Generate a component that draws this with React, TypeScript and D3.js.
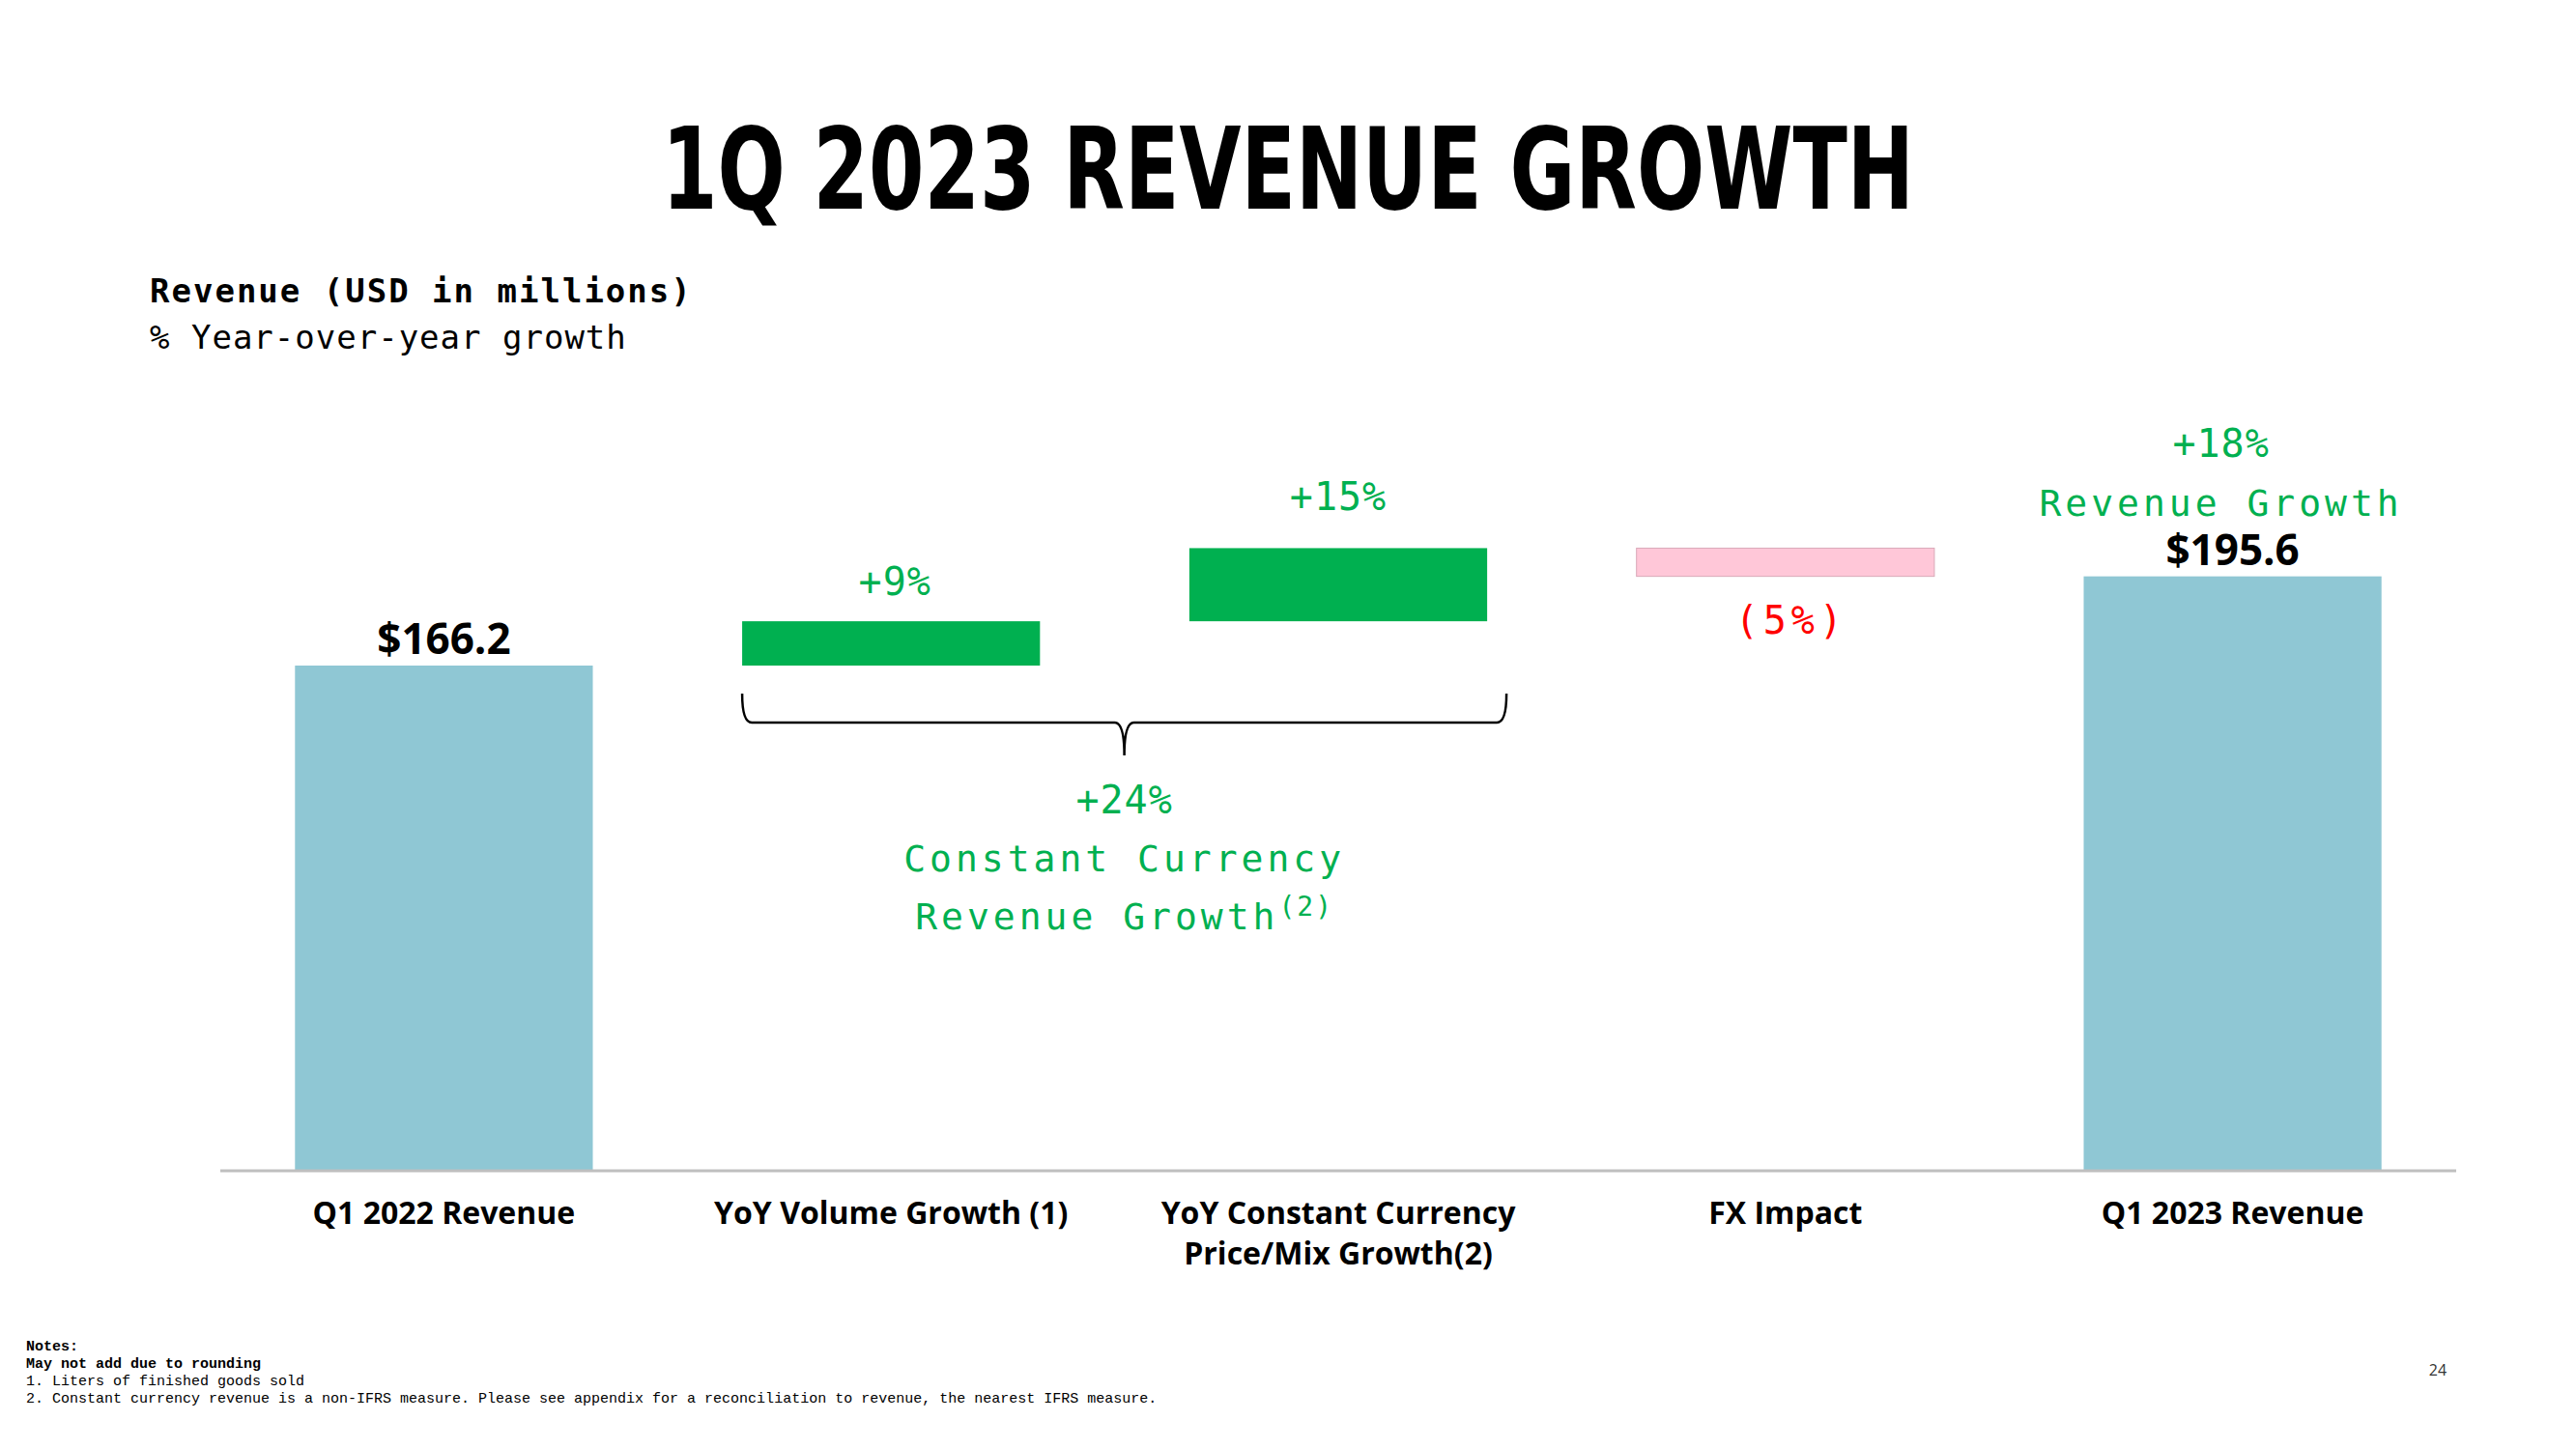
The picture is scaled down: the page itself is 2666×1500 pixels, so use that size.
import * as d3 from 'd3';
import React from 'react';

const categories = ['Q1 2022 Revenue', 'YoY Volume Growth (1)', 'YoY Constant Currency Price/Mix Growth(2)', 'FX Impact', 'Q1 2023 Revenue'];
const categoryLines = [['Q1 2022 Revenue'], ['YoY Volume Growth (1)'], ['YoY Constant Currency', 'Price/Mix Growth(2)'], ['FX Impact'], ['Q1 2023 Revenue']];
const values = [166.2, 14.6, 24.1, -9.3, 195.6];
const kinds = ['total', 'delta', 'delta', 'delta', 'total'];
const valueLabels = ['$166.2', '+9%', '+15%', '(5%)', '$195.6'];
const notes = [
  'Notes:',
  'May not add due to rounding',
  '1. Liters of finished goods sold',
  '2. Constant currency revenue is a non-IFRS measure.  Please see appendix for a reconciliation to revenue, the nearest IFRS measure.',
];

const W = 2666;
const H = 1500;
const GREEN = '#00b050';
const BLUE = '#8fc7d4';
const PINK = '#ffc7d8';
const RED = '#ff0000';
const MONO = "'DejaVu Sans Mono', 'Liberation Mono', monospace";
const SANS = "'Open Sans', 'Noto Sans', sans-serif";

const App: React.FC = () => {
  const x = d3.scaleBand<string>().domain(categories).range([228, 2542]).paddingInner(0.334).paddingOuter(0.167);
  const y = d3.scaleLinear().domain([0, 220]).range([1211, 520]);
  const bw = x.bandwidth();

  // waterfall steps
  let running = 0;
  const bars = categories.map((c, i) => {
    let lo: number;
    let hi: number;
    if (kinds[i] === 'total') {
      lo = 0;
      hi = values[i];
      running = values[i];
    } else {
      const next = running + values[i];
      lo = Math.min(running, next);
      hi = Math.max(running, next);
      running = next;
    }
    return { c, i, lo, hi, v: values[i] };
  });

  const fillFor = (i: number) => (kinds[i] === 'total' ? BLUE : values[i] >= 0 ? GREEN : PINK);

  // brace under the two constant-currency bars
  const bx1 = x(categories[1])!;
  const bx2 = x(categories[2])! + bw + 20;
  const bmid = (bx1 + bx2) / 2;
  const bTop = y(values[0]) + 29;
  const bLine = bTop + 30;
  const bTip = bLine + 34;
  const brace = `M${bx1},${bTop} Q${bx1},${bLine} ${bx1 + 10},${bLine} L${bmid - 10},${bLine} Q${bmid},${bLine} ${bmid},${bTip} Q${bmid},${bLine} ${bmid + 10},${bLine} L${bx2 - 10},${bLine} Q${bx2},${bLine} ${bx2},${bTop}`;

  const cx = (i: number) => x(categories[i])! + bw / 2;

  return (
    <svg width={W} height={H} style={{ display: 'block', position: 'absolute', left: 0, top: 0 }}>
      <rect width={W} height={H} fill="#fff" />
      <text
        x={W / 2}
        y={216}
        textAnchor="middle"
        fontFamily="'DejaVu Sans Condensed', 'DejaVu Sans', sans-serif"
        fontWeight={900}
        fontSize={118}
        textLength={1296}
        lengthAdjust="spacingAndGlyphs"
        fill="#000"
      >
        1Q 2023 REVENUE GROWTH
      </text>

      <text x={155} y={313} fontFamily={MONO} fontWeight={700} fontSize={34} letterSpacing={2} fill="#000">
        Revenue (USD in millions)
      </text>
      <text x={155} y={361} fontFamily={MONO} fontSize={34} letterSpacing={1} fill="#000">
        % Year-over-year growth
      </text>

      {bars.map((b) => (
        <rect
          key={b.c}
          x={x(b.c)}
          y={y(b.hi)}
          width={bw}
          height={y(b.lo) - y(b.hi)}
          fill={fillFor(b.i)}
          stroke={kinds[b.i] === 'delta' && b.v < 0 ? '#d9a8b8' : 'none'}
          strokeWidth={1}
        />
      ))}

      <line x1={228} x2={2542} y1={y(0) + 1} y2={y(0) + 1} stroke="#bfbfbf" strokeWidth={3} />

      {/* value labels */}
      <text x={cx(0)} y={y(bars[0].hi) - 12} textAnchor="middle" fontFamily={SANS} fontWeight={700} fontSize={44} fill="#000">
        {valueLabels[0]}
      </text>
      <text x={cx(4)} y={y(bars[4].hi) - 12} textAnchor="middle" fontFamily={SANS} fontWeight={700} fontSize={44} fill="#000">
        {valueLabels[4]}
      </text>
      <text x={cx(1) + 4} y={y(bars[1].hi) - 27} textAnchor="middle" fontFamily={MONO} fontSize={40} letterSpacing={1} fill={GREEN}>
        {valueLabels[1]}
      </text>
      <text x={cx(2)} y={y(bars[2].hi) - 39} textAnchor="middle" fontFamily={MONO} fontSize={40} letterSpacing={1} fill={GREEN}>
        {valueLabels[2]}
      </text>
      <text x={cx(3) + 6} y={y(bars[3].lo) + 59} textAnchor="middle" fontFamily={MONO} fontSize={40} letterSpacing={5} fill={RED}>
        {valueLabels[3]}
      </text>

      <text x={cx(4) - 12} y={y(bars[4].hi) - 124} textAnchor="middle" fontFamily={MONO} fontSize={40} letterSpacing={1} fill={GREEN}>
        +18%
      </text>
      <text x={cx(4) - 12} y={y(bars[4].hi) - 63} textAnchor="middle" fontFamily={MONO} fontSize={38} letterSpacing={4} fill={GREEN}>
        Revenue Growth
      </text>

      <path d={brace} fill="none" stroke="#000" strokeWidth={2.5} />
      <text x={bmid} y={842} textAnchor="middle" fontFamily={MONO} fontSize={40} letterSpacing={1} fill={GREEN}>
        +24%
      </text>
      <text x={bmid} y={902} textAnchor="middle" fontFamily={MONO} fontSize={38} letterSpacing={4} fill={GREEN}>
        Constant Currency
      </text>
      <text x={bmid} y={962} textAnchor="middle" fontFamily={MONO} fontSize={38} letterSpacing={4} fill={GREEN}>
        Revenue Growth
        <tspan fontSize={28} dy={-14} letterSpacing={2}>
          (2)
        </tspan>
      </text>

      {/* category labels */}
      {categoryLines.map((lines, i) => (
        <text key={categories[i]} x={cx(i)} y={1267} textAnchor="middle" fontFamily={SANS} fontWeight={700} fontSize={32} fill="#000">
          {lines.map((l, j) => (
            <tspan key={l} x={cx(i)} dy={j === 0 ? 0 : 42}>
              {l}
            </tspan>
          ))}
        </text>
      ))}

      {notes.map((n, i) => (
        <text key={n} x={27} y={1398 + i * 18} fontFamily="'Liberation Mono', monospace" fontWeight={i < 2 ? 700 : 400} fontSize={15} fill="#000">
          {n}
        </text>
      ))}
      <text x={2523} y={1424} textAnchor="middle" fontFamily={SANS} fontSize={16} fill="#333">
        24
      </text>
    </svg>
  );
};

export default App;
